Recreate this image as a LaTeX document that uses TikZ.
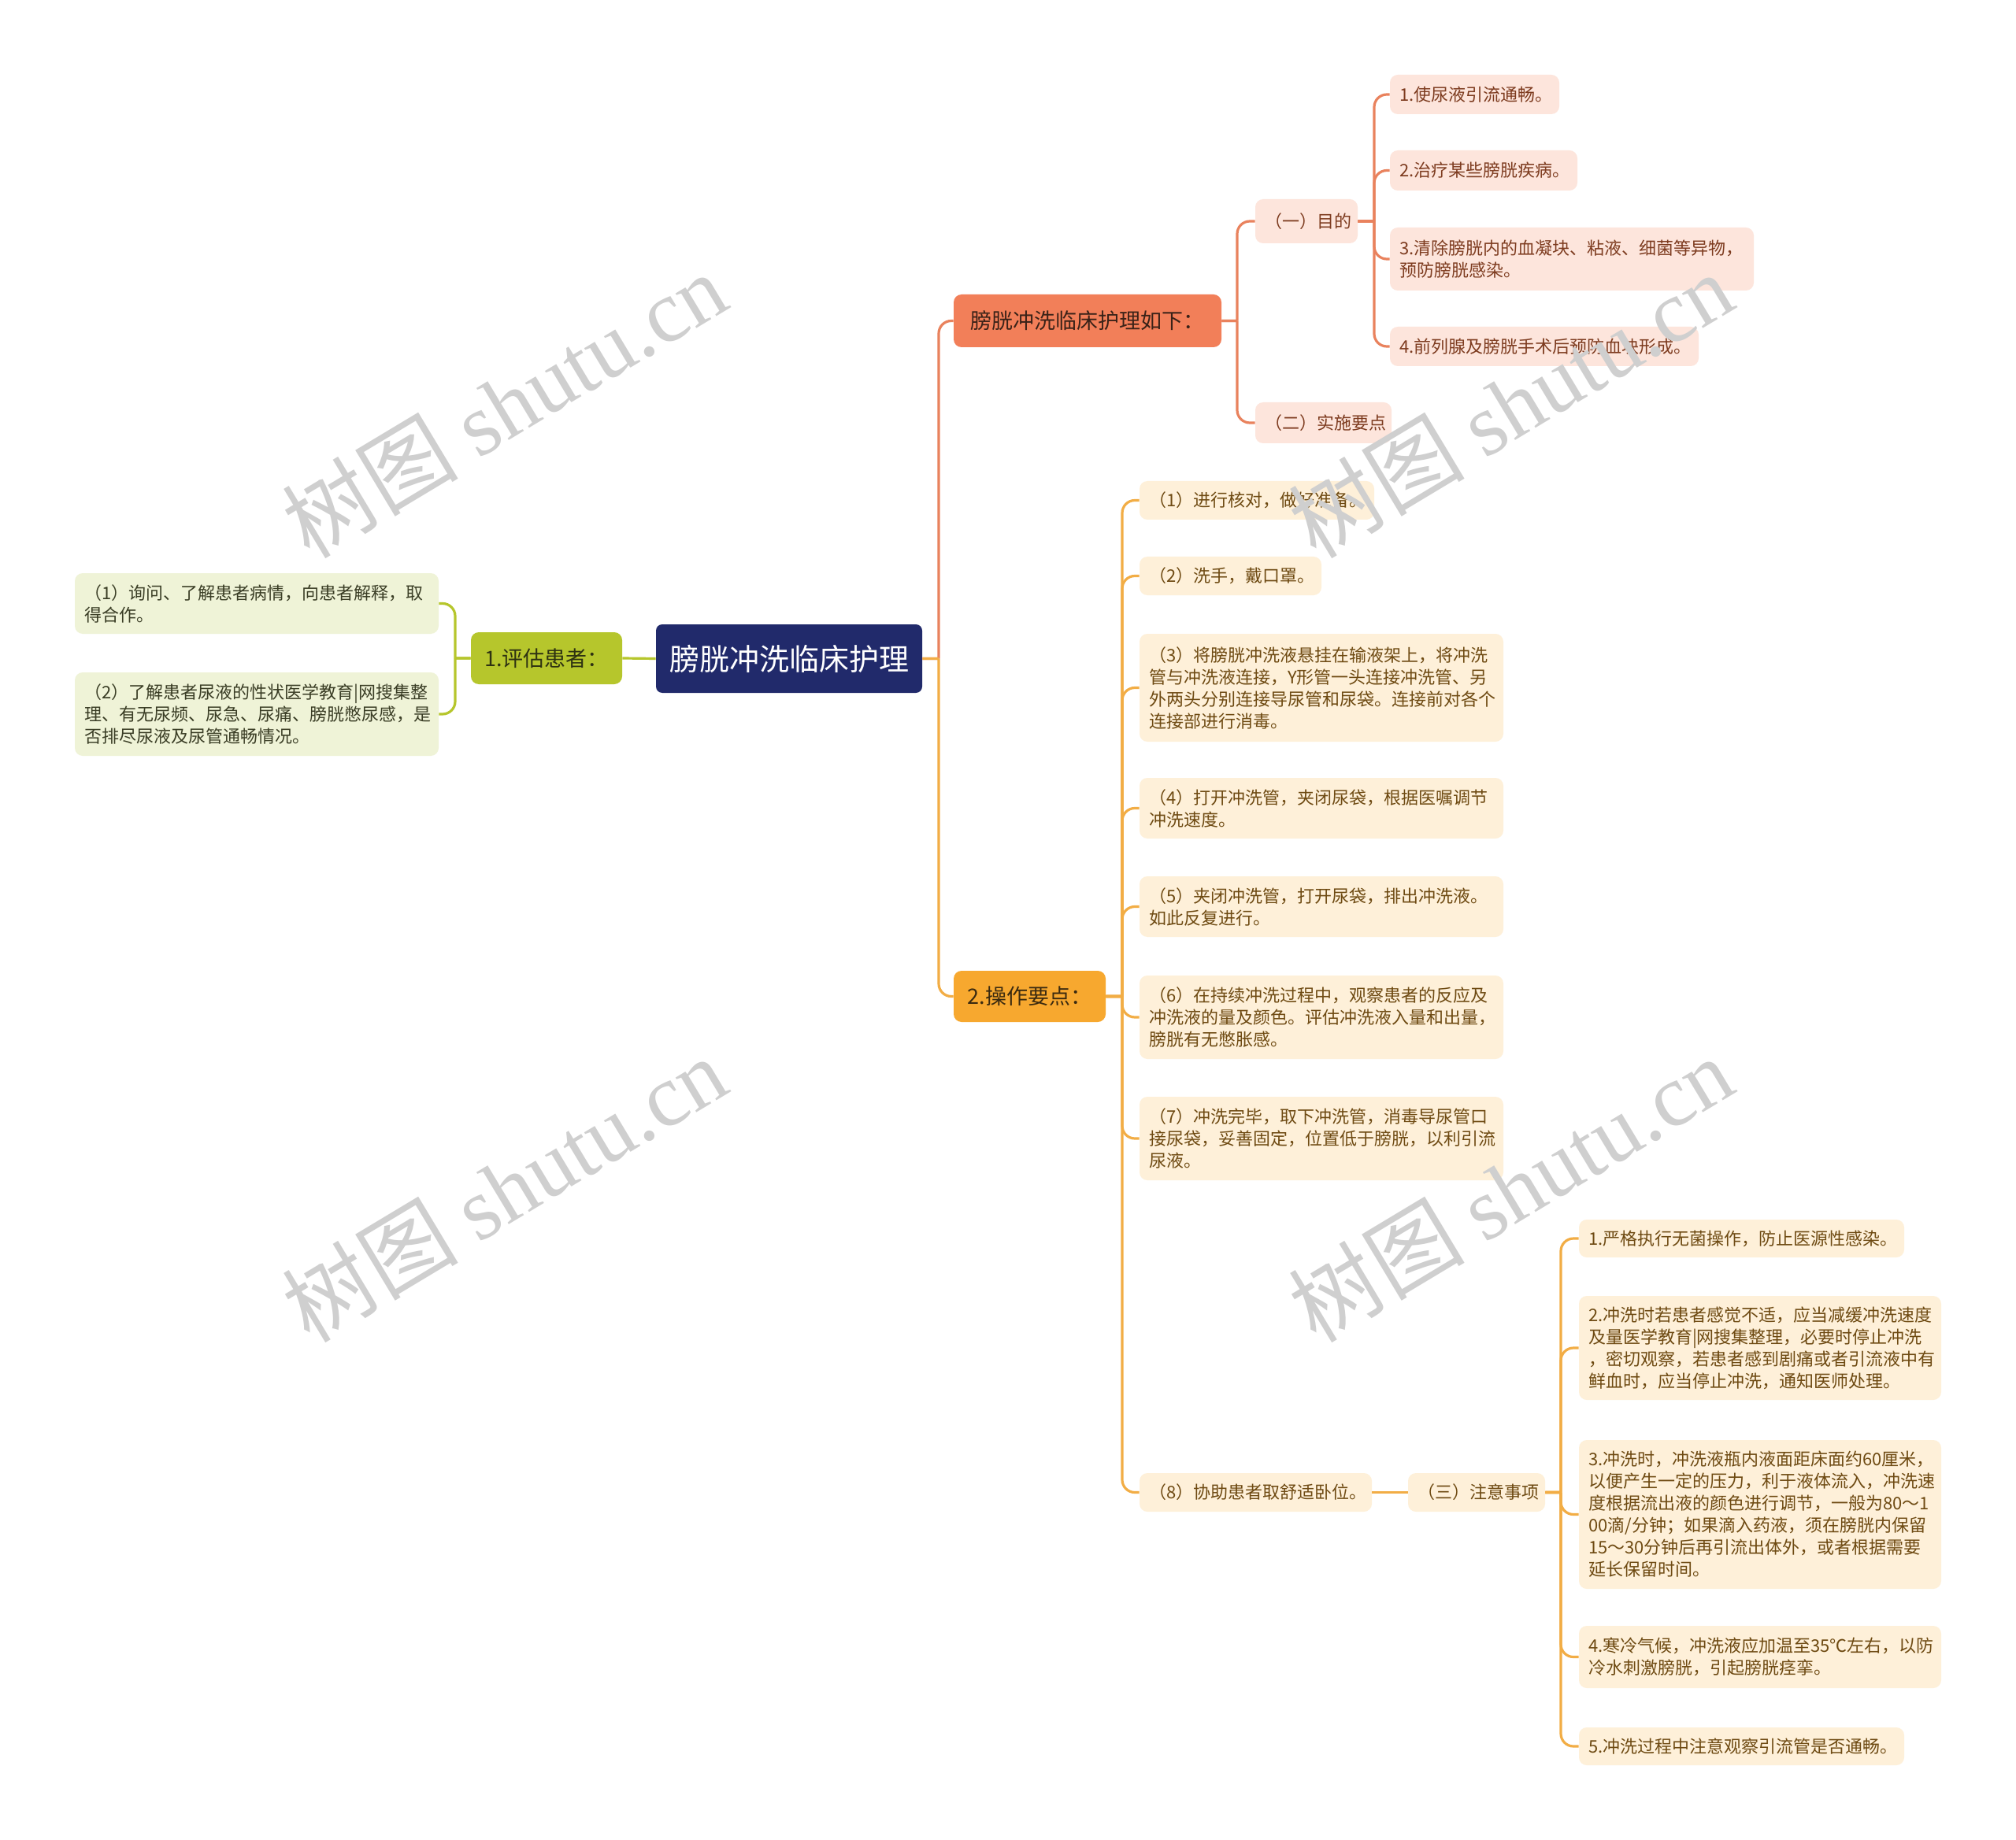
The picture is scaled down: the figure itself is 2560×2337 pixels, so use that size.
\documentclass[tikz,border=0pt]{standalone}
\usepackage{fontspec}
\setmainfont{Noto Sans CJK SC}
\newfontfamily\wmserif{Liberation Serif}
\newfontfamily\wmcjk{Noto Sans CJK SC}
\usetikzlibrary{calc}

\definecolor{navy}{HTML}{212A6B}
\definecolor{gmainc}{HTML}{B6C62C}
\definecolor{gfill}{HTML}{EFF3D7}
\definecolor{gtext}{HTML}{3A3D25}
\definecolor{gmaintext}{HTML}{2E3212}
\definecolor{omainc}{HTML}{F27F59}
\definecolor{ofill}{HTML}{FDE5DC}
\definecolor{otext}{HTML}{7D3B1F}
\definecolor{omaintext}{HTML}{3A2218}
\definecolor{oline}{HTML}{E9825D}
\definecolor{ymainc}{HTML}{F7A82F}
\definecolor{yfill}{HTML}{FEF0D9}
\definecolor{ytext}{HTML}{6E4A12}
\definecolor{ymaintext}{HTML}{3A2A10}
\definecolor{yline}{HTML}{F2AD45}
\definecolor{wmgray}{HTML}{CFCFCF}

\newcommand\mmnode[7]{%
  \pgfmathsetmacro\mmcx{(#3+#5)/2}%
  \pgfmathsetmacro\mmcy{(#4+#6)/2}%
  \pgfmathsetmacro\mmw{(#5-#3)*0.5}%
  \pgfmathsetmacro\mmh{(#6-#4)*0.5}%
  \pgfmathsetmacro\mmtw{(#5-#3)*0.5-12}%
  \node[#1, minimum width=\mmw pt, minimum height=\mmh pt, text width=\mmtw pt] (#2) at (\mmcx,\mmcy) {#7};}
\newcommand\mmlinkR[4]{\draw[#1] (#2.east) -- (#2.east -| #3) (#2.east -| #3) [rounded corners=8pt] |- (#4.west);}
\newcommand\mmlinkL[4]{\draw[#1] (#2.west) -- (#2.west -| #3) (#2.west -| #3) [rounded corners=8pt] |- (#4.east);}

\tikzset{
  mmbox/.style={rounded corners=5pt, inner xsep=6pt, inner ysep=0pt, align=left, font=\fontsize{11}{14}\selectfont},
  gleaf/.style={mmbox, fill=gfill, text=gtext},
  oleaf/.style={mmbox, fill=ofill, text=otext},
  yleaf/.style={mmbox, fill=yfill, text=ytext},
  rootbox/.style={mmbox, fill=navy, text=white, align=center, font=\fontsize{19}{22}\selectfont, rounded corners=4pt},
  gmain/.style={mmbox, fill=gmainc, text=gmaintext, align=center, font=\fontsize{13.5}{16}\selectfont},
  omain/.style={mmbox, fill=omainc, text=omaintext, align=center, font=\fontsize{13.5}{16}\selectfont},
  ymain/.style={mmbox, fill=ymainc, text=ymaintext, align=center, font=\fontsize{13.5}{16}\selectfont},
  gconn/.style={draw=gmainc, line width=1.6pt},
  oconn/.style={draw=oline, line width=1.6pt},
  yconn/.style={draw=yline, line width=1.6pt},
  wm/.style={text=wmgray, font=\fontsize{56}{56}\selectfont, inner sep=0pt}
}

\begin{document}
\begin{tikzpicture}[x=0.5pt,y=-0.5pt]
\useasboundingbox[fill=white] (0,0) rectangle (2560,2337);
\clip (0,0) rectangle (2560,2337);

% trunk coordinates
\coordinate (tR) at (1192,0);
\coordinate (tG) at (578,0);
\coordinate (tO) at (1571,0);
\coordinate (tA) at (1745,0);
\coordinate (tY) at (1425,0);
\coordinate (tN) at (1982,0);

% root and first level
\mmnode{rootbox}{root}{833}{793}{1171}{880}{膀胱冲洗临床护理}
\mmnode{gmain}{G}{598}{803}{790}{869}{1.评估患者：}
\mmnode{omain}{O1}{1211}{374}{1551}{441}{膀胱冲洗临床护理如下：}
\mmnode{ymain}{Y1}{1211}{1233}{1404}{1298}{2.操作要点：}

% left leaves
\mmnode{gleaf}{GL1}{95}{728}{557}{805}{（1）询问、了解患者病情，向患者解释，取\\得合作。}
\mmnode{gleaf}{GL2}{95}{854}{557}{960}{（2）了解患者尿液的性状医学教育|网搜集整\\理、有无尿频、尿急、尿痛、膀胱憋尿感，是\\否排尽尿液及尿管通畅情况。}

% orange branch
\mmnode{oleaf}{Oa}{1594}{253}{1724}{309}{（一）目的}
\mmnode{oleaf}{Ob}{1594}{511}{1767}{563}{（二）实施要点}
\mmnode{oleaf}{A1}{1765}{95}{1980}{145}{1.使尿液引流通畅。}
\mmnode{oleaf}{A2}{1765}{191}{2003}{242}{2.治疗某些膀胱疾病。}
\mmnode{oleaf}{A3}{1765}{289}{2227}{369}{3.清除膀胱内的血凝块、粘液、细菌等异物，\\预防膀胱感染。}
\mmnode{oleaf}{A4}{1765}{415}{2157}{465}{4.前列腺及膀胱手术后预防血块形成。}

% yellow branch
\mmnode{yleaf}{S1}{1447}{611}{1745}{660}{（1）进行核对，做好准备。}
\mmnode{yleaf}{S2}{1447}{707}{1678}{756}{（2）洗手，戴口罩。}
\mmnode{yleaf}{S3}{1447}{805}{1909}{942}{（3）将膀胱冲洗液悬挂在输液架上，将冲洗\\管与冲洗液连接，Y形管一头连接冲洗管、另\\外两头分别连接导尿管和尿袋。连接前对各个\\连接部进行消毒。}
\mmnode{yleaf}{S4}{1447}{988}{1909}{1065}{（4）打开冲洗管，夹闭尿袋，根据医嘱调节\\冲洗速度。}
\mmnode{yleaf}{S5}{1447}{1113}{1909}{1190}{（5）夹闭冲洗管，打开尿袋，排出冲洗液。\\如此反复进行。}
\mmnode{yleaf}{S6}{1447}{1239}{1909}{1345}{（6）在持续冲洗过程中，观察患者的反应及\\冲洗液的量及颜色。评估冲洗液入量和出量，\\膀胱有无憋胀感。}
\mmnode{yleaf}{S7}{1447}{1393}{1909}{1499}{（7）冲洗完毕，取下冲洗管，消毒导尿管口\\接尿袋，妥善固定，位置低于膀胱，以利引流\\尿液。}
\mmnode{yleaf}{S8}{1447}{1871}{1742}{1920}{（8）协助患者取舒适卧位。}
\mmnode{yleaf}{N0}{1788}{1871}{1962}{1920}{（三）注意事项}
\mmnode{yleaf}{N1}{2005}{1549}{2418}{1597}{1.严格执行无菌操作，防止医源性感染。}
\mmnode{yleaf}{N2}{2005}{1646}{2465}{1778}{2.冲洗时若患者感觉不适，应当减缓冲洗速度\\及量医学教育|网搜集整理，必要时停止冲洗\\，密切观察，若患者感到剧痛或者引流液中有\\鲜血时，应当停止冲洗，通知医师处理。}
\mmnode{yleaf}{N3}{2005}{1829}{2465}{2018}{3.冲洗时，冲洗液瓶内液面距床面约60厘米，\\以便产生一定的压力，利于液体流入，冲洗速\\度根据流出液的颜色进行调节，一般为80～1\\00滴/分钟；如果滴入药液，须在膀胱内保留\\15～30分钟后再引流出体外，或者根据需要\\延长保留时间。}
\mmnode{yleaf}{N4}{2005}{2065}{2465}{2144}{4.寒冷气候，冲洗液应加温至35℃左右，以防\\冷水刺激膀胱，引起膀胱痉挛。}
\mmnode{yleaf}{N5}{2005}{2194}{2418}{2242}{5.冲洗过程中注意观察引流管是否通畅。}

% connectors
\draw[gconn] (root.west) -- (G.east);
\mmlinkL{gconn}{G}{tG}{GL1}
\mmlinkL{gconn}{G}{tG}{GL2}
\mmlinkR{oconn}{root}{tR}{O1}
\mmlinkR{yconn}{root}{tR}{Y1}
\mmlinkR{oconn}{O1}{tO}{Oa}
\mmlinkR{oconn}{O1}{tO}{Ob}
\mmlinkR{oconn}{Oa}{tA}{A1}
\mmlinkR{oconn}{Oa}{tA}{A2}
\mmlinkR{oconn}{Oa}{tA}{A3}
\mmlinkR{oconn}{Oa}{tA}{A4}
\mmlinkR{yconn}{Y1}{tY}{S1}
\mmlinkR{yconn}{Y1}{tY}{S2}
\mmlinkR{yconn}{Y1}{tY}{S3}
\mmlinkR{yconn}{Y1}{tY}{S4}
\mmlinkR{yconn}{Y1}{tY}{S5}
\mmlinkR{yconn}{Y1}{tY}{S6}
\mmlinkR{yconn}{Y1}{tY}{S7}
\mmlinkR{yconn}{Y1}{tY}{S8}
\draw[yconn] (S8.east) -- (N0.west);
\mmlinkR{yconn}{N0}{tN}{N1}
\mmlinkR{yconn}{N0}{tN}{N2}
\mmlinkR{yconn}{N0}{tN}{N3}
\mmlinkR{yconn}{N0}{tN}{N4}
\mmlinkR{yconn}{N0}{tN}{N5}

% watermarks
\node[wm, rotate=31] (wm1) at (640,514) {{\wmcjk 树图} {\wmserif shutu.cn}};
\node[wm, rotate=31] (wm2) at (1918,514) {{\wmcjk 树图} {\wmserif shutu.cn}};
\node[wm, rotate=31] (wm3) at (640,1510) {{\wmcjk 树图} {\wmserif shutu.cn}};
\node[wm, rotate=31] (wm4) at (1918,1510) {{\wmcjk 树图} {\wmserif shutu.cn}};
\end{tikzpicture}
\end{document}
